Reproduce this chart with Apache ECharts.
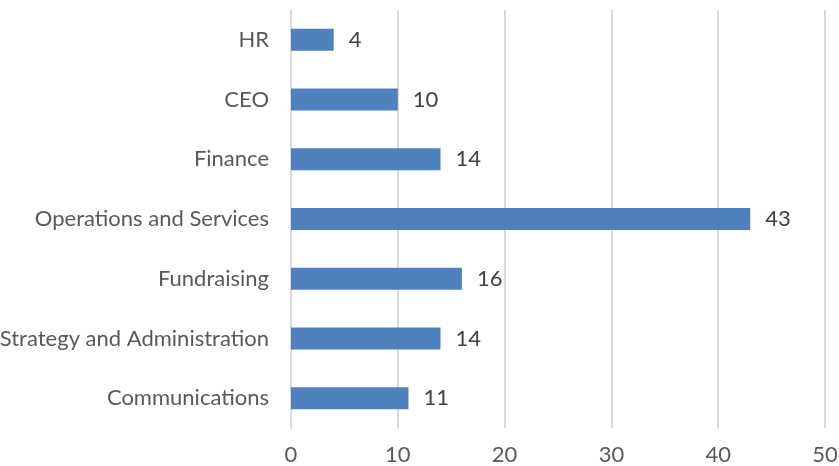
<!DOCTYPE html>
<html>
<head>
<meta charset="utf-8">
<script src="https://cdn.jsdelivr.net/npm/echarts@6/dist/echarts.min.js"></script>
<style>
  html, body { margin: 0; padding: 0; background: #fff; }
  #main { width: 839px; height: 466px; }
</style>
</head>
<body>
<div id="main"></div>
<script>
// bottom to top, as the value axis draws them
var categories = ["Communications", "Strategy and Administration", "Fundraising", "Operations and Services", "Finance", "CEO", "HR"];
var values = [11, 14, 16, 43, 14, 10, 4];
var xTicks = [0, 10, 20, 30, 40, 50];

var myChart = echarts.init(document.getElementById("main"));

var font = "Lato, 'Noto Sans', sans-serif";

var option = {
  animation: false,
  grid: {
    left: 291,
    right: 14,
    top: 10,
    bottom: 38,
    containLabel: false,
    outerBoundsMode: "none"
  },
  xAxis: {
    type: "value",
    min: xTicks[0],
    max: xTicks[xTicks.length - 1],
    interval: 10,
    axisLine: { show: false },
    axisTick: { show: false },
    splitLine: { lineStyle: { color: "#d9d9d9", width: 2 } },
    axisLabel: {
      color: "#595959",
      fontSize: 22,
      fontFamily: font,
      margin: 16
    }
  },
  yAxis: {
    type: "category",
    data: categories,
    axisLine: { show: true, lineStyle: { color: "#d9d9d9", width: 2 } },
    axisTick: { show: false },
    axisLabel: {
      color: "#595959",
      fontSize: 22,
      fontFamily: font,
      margin: 22
    }
  },
  series: [
    {
      type: "bar",
      data: values,
      barWidth: 22,
      itemStyle: { color: "#4f81bd" },
      label: {
        show: true,
        position: "right",
        distance: 15,
        color: "#404040",
        fontSize: 22,
        fontFamily: font
      }
    }
  ]
};

myChart.setOption(option);
</script>
</body>
</html>
